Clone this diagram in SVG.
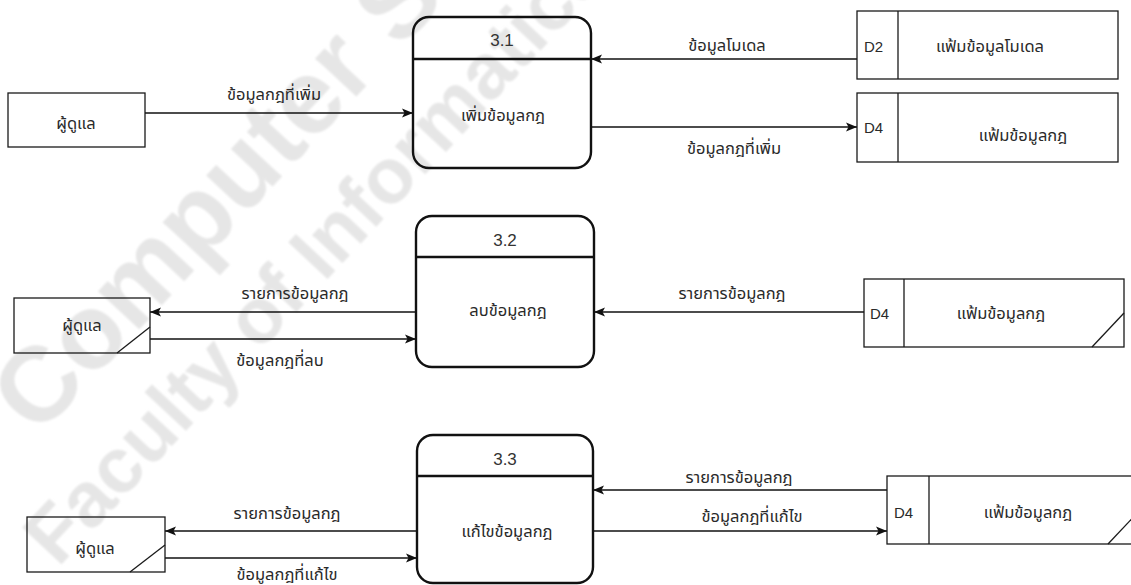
<svg xmlns="http://www.w3.org/2000/svg" width="1131" height="585" viewBox="0 0 1131 585">
  <style>
    .wm { font-family: "Liberation Sans", Arial, sans-serif; font-weight: bold; fill: #e6e6e6; }
    .proc { fill: none; stroke: #111; stroke-width: 2.4; }
    .box { fill: none; stroke: #1a1a1a; stroke-width: 1.3; }
    .sep { stroke: #111; stroke-width: 2.4; }
    .thin { stroke: #1a1a1a; stroke-width: 1.3; fill: none; }
    .flow { fill: none; stroke: #111; stroke-width: 1.3; marker-end: url(#arrow); }
    .t { font-family: "Noto Sans Thai", Tahoma, "Leelawadee UI", "Noto Sans", sans-serif; font-size: 16.5px; fill: #2a2a2a; text-anchor: middle; }
    .num { font-family: "Liberation Sans", Arial, sans-serif; font-size: 17px; fill: #333; text-anchor: middle; }
    .id { font-family: "Liberation Sans", Arial, sans-serif; font-size: 15px; fill: #2a2a2a; }
  </style>
  <defs>
    <marker id="arrow" markerUnits="userSpaceOnUse" markerWidth="12" markerHeight="10" refX="11" refY="5" orient="auto">
      <path d="M0,0.5 L11,5 L0,9.5 L2.5,5 Z" fill="#111"/>
    </marker>
    <filter id="soft" x="-5%" y="-5%" width="110%" height="110%">
      <feGaussianBlur stdDeviation="1.2"/>
    </filter>
  </defs>
  <rect width="1131" height="585" fill="#fff"/>

  <!-- background watermark -->
  <g id="watermark" filter="url(#soft)">
    <text class="wm" font-size="106" transform="translate(38,438) rotate(-47)">Computer Sc</text>
    <text class="wm" font-size="78" transform="translate(58,568) rotate(-47)">Faculty of Informatics,</text>
  </g>

  <!-- data flows -->
  <g id="connectors">
    <path class="flow" d="M145,113 H413"/>
    <text class="t" x="274" y="100">ข้อมูลกฎที่เพิ่ม</text>
    <path class="flow" d="M857,59 H591"/>
    <text class="t" x="727" y="51">ข้อมูลโมเดล</text>
    <path class="flow" d="M591,127 H857"/>
    <text class="t" x="734" y="154">ข้อมูลกฎที่เพิ่ม</text>

    <path class="flow" d="M416,312 H150"/>
    <text class="t" x="295" y="299">รายการข้อมูลกฎ</text>
    <path class="flow" d="M150,339 H416"/>
    <text class="t" x="280" y="366">ข้อมูลกฎที่ลบ</text>
    <path class="flow" d="M864,312 H594"/>
    <text class="t" x="732" y="299">รายการข้อมูลกฎ</text>

    <path class="flow" d="M417,531 H165"/>
    <text class="t" x="287" y="519">รายการข้อมูลกฎ</text>
    <path class="flow" d="M165,558 H417"/>
    <text class="t" x="287" y="580">ข้อมูลกฎที่แก้ไข</text>
    <path class="flow" d="M887,490 H593"/>
    <text class="t" x="739" y="483">รายการข้อมูลกฎ</text>
    <path class="flow" d="M593,531 H887"/>
    <text class="t" x="752" y="522">ข้อมูลกฎที่แก้ไข</text>
  </g>

  <!-- row 1 -->
  <g id="entity-admin-1">
    <rect class="box" x="8" y="93" width="137" height="54"/>
    <text class="t" x="76" y="129">ผู้ดูแล</text>
  </g>
  <g id="process-3-1">
    <rect class="proc" x="413" y="17" width="178" height="151" rx="16"/>
    <line class="sep" x1="413" y1="59" x2="591" y2="59"/>
    <text class="num" x="502" y="46">3.1</text>
    <text class="t" x="503" y="121">เพิ่มข้อมูลกฎ</text>
  </g>
  <g id="store-d2">
    <rect class="box" x="857" y="11" width="261" height="68"/>
    <line class="thin" x1="898" y1="11" x2="898" y2="79"/>
    <text class="id" x="864" y="52">D2</text>
    <text class="t" x="990" y="52">แฟ้มข้อมูลโมเดล</text>
  </g>
  <g id="store-d4-1">
    <rect class="box" x="857" y="93" width="261" height="69"/>
    <line class="thin" x1="898" y1="93" x2="898" y2="162"/>
    <text class="id" x="864" y="133">D4</text>
    <text class="t" x="1023" y="141">แฟ้มข้อมูลกฎ</text>
  </g>

  <!-- row 2 -->
  <g id="entity-admin-2">
    <rect class="box" x="14" y="298" width="136" height="55"/>
    <line class="thin" x1="117" y1="353" x2="150" y2="327"/>
    <text class="t" x="82" y="331">ผู้ดูแล</text>
  </g>
  <g id="process-3-2">
    <rect class="proc" x="416" y="216" width="178" height="151" rx="16"/>
    <line class="sep" x1="416" y1="257" x2="594" y2="257"/>
    <text class="num" x="505" y="246">3.2</text>
    <text class="t" x="508" y="316">ลบข้อมูลกฎ</text>
  </g>
  <g id="store-d4-2">
    <rect class="box" x="864" y="279" width="260" height="68"/>
    <line class="thin" x1="904" y1="279" x2="904" y2="347"/>
    <line class="thin" x1="1092" y1="347" x2="1124" y2="313"/>
    <text class="id" x="870" y="319">D4</text>
    <text class="t" x="1001" y="319">แฟ้มข้อมูลกฎ</text>
  </g>

  <!-- row 3 -->
  <g id="entity-admin-3">
    <rect class="box" x="27" y="517" width="138" height="55"/>
    <line class="thin" x1="130" y1="572" x2="165" y2="545"/>
    <text class="t" x="95" y="554">ผู้ดูแล</text>
  </g>
  <g id="process-3-3">
    <rect class="proc" x="417" y="435" width="176" height="148" rx="16"/>
    <line class="sep" x1="417" y1="476" x2="593" y2="476"/>
    <text class="num" x="505" y="465">3.3</text>
    <text class="t" x="507" y="537">แก้ไขข้อมูลกฎ</text>
  </g>
  <g id="store-d4-3">
    <rect class="box" x="887" y="476" width="262" height="68"/>
    <line class="thin" x1="929" y1="476" x2="929" y2="544"/>
    <line class="thin" x1="1108" y1="544" x2="1142" y2="508"/>
    <text class="id" x="894" y="518">D4</text>
    <text class="t" x="1028" y="518">แฟ้มข้อมูลกฎ</text>
  </g>
</svg>
